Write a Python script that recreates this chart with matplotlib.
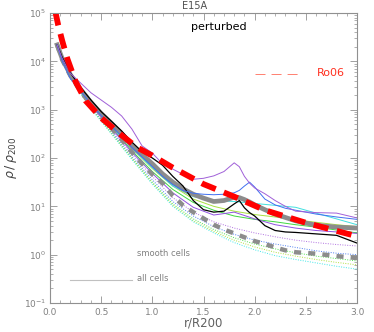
import numpy as np
import matplotlib
matplotlib.use("Agg")
import matplotlib.pyplot as plt
from matplotlib.ticker import FixedLocator, MultipleLocator, NullFormatter

# ---------------- data (log10 of rho/rho200) ----------------
r_fine = [0.07, 0.12, 0.2, 0.3, 0.4, 0.5, 0.6, 0.7, 0.8, 0.9, 1.0, 1.1, 1.2, 1.3, 1.4,
          1.5, 1.6, 1.7, 1.8, 1.85, 1.9, 1.95, 2.0, 2.1, 2.2, 2.3, 2.4, 2.6, 2.8, 3.0]

smooth_all = [4.34, 4.05, 3.72, 3.42, 3.15, 2.92, 2.72, 2.50, 2.25, 2.07, 1.88, 1.67, 1.50, 1.36, 1.25,
              1.17, 1.10, 1.12, 1.19, 1.18, 1.14, 1.09, 1.03, 0.93, 0.84, 0.77, 0.70, 0.61, 0.57, 0.55]
all_cells = [4.34, 4.08, 3.76, 3.46, 3.20, 2.96, 2.76, 2.56, 2.33, 2.13, 2.00, 1.85, 1.62, 1.42, 1.12,
             0.93, 0.88, 0.90, 1.05, 1.12, 0.97, 0.87, 0.80, 0.60, 0.50, 0.47, 0.46, 0.43, 0.40, 0.24]
smooth_dash = [4.34, 4.03, 3.70, 3.38, 3.10, 2.85, 2.62, 2.38, 2.12, 1.88, 1.66, 1.48, 1.22, 1.02, 0.88,
               0.75, 0.62, 0.52, 0.44, 0.40, 0.36, 0.32, 0.28, 0.22, 0.15, 0.09, 0.05, 0.02, -0.03, -0.07]
purple_up = [4.34, 4.06, 3.75, 3.55, 3.35, 3.20, 3.05, 2.87, 2.60, 2.25, 2.10, 1.88, 1.77, 1.66, 1.56,
             1.58, 1.63, 1.72, 1.90, 1.82, 1.62, 1.48, 1.38, 1.26, 1.12, 1.00, 0.90, 0.87, 0.86, 0.76]
blue_sol = [4.34, 4.00, 3.64, 3.38, 3.12, 2.88, 2.66, 2.45, 2.22, 2.02, 1.82, 1.62, 1.45, 1.33, 1.27,
            1.25, 1.24, 1.25, 1.28, 1.33, 1.42, 1.50, 1.40, 1.15, 1.03, 0.96, 0.92, 0.84, 0.78, 0.73]

r_thin = [0.07, 0.2, 0.4, 0.6, 0.8, 1.0, 1.2, 1.4, 1.6, 1.8, 2.0, 2.2, 2.4, 2.6, 2.8, 3.0]
green_sol = [4.34, 3.68, 3.10, 2.64, 2.15, 1.72, 1.35, 1.08, 0.92, 0.80, 0.73, 0.68, 0.62, 0.57, 0.51, 0.45]
ygreen_sol = [4.34, 3.70, 3.12, 2.67, 2.20, 1.78, 1.42, 1.15, 1.00, 0.90, 0.83, 0.78, 0.72, 0.67, 0.62, 0.58]
cyan_sol = [4.34, 3.69, 3.12, 2.66, 2.20, 1.80, 1.42, 1.20, 1.12, 1.10, 1.06, 1.02, 0.98, 0.86, 0.74, 0.62]
purple_low = [4.34, 3.68, 3.08, 2.62, 2.12, 1.68, 1.28, 0.98, 0.82, 0.88, 0.74, 0.62, 0.55, 0.50, 0.47, 0.44]
purple_dot = [4.34, 3.68, 3.08, 2.58, 2.08, 1.62, 1.18, 0.88, 0.68, 0.55, 0.45, 0.37, 0.30, 0.25, 0.21, 0.18]
blue_dot = [4.34, 3.66, 3.05, 2.55, 2.03, 1.55, 1.10, 0.80, 0.58, 0.42, 0.30, 0.22, 0.15, 0.08, 0.03, 0.00]
green_dot = [4.34, 3.65, 3.04, 2.52, 2.00, 1.50, 1.05, 0.74, 0.52, 0.35, 0.22, 0.12, 0.04, -0.03, -0.08, -0.13]
cyan_dot = [4.34, 3.64, 3.02, 2.50, 1.97, 1.46, 1.00, 0.68, 0.45, 0.25, 0.10, -0.02, -0.10, -0.17, -0.24, -0.30]
ygreen_dot = [4.34, 3.65, 3.03, 2.51, 1.99, 1.48, 1.02, 0.70, 0.48, 0.30, 0.16, 0.05, -0.03, -0.10, -0.16, -0.21]

r_ro06 = [0.05, 0.08, 0.12, 0.17, 0.25, 0.35, 0.5, 0.7, 0.85, 1.0, 1.2, 1.5, 1.8, 2.1, 2.5, 3.0]
ro06 = [5.05, 4.75, 4.42, 4.05, 3.58, 3.18, 2.83, 2.47, 2.22, 2.05, 1.80, 1.46, 1.20, 0.92, 0.66, 0.38]

x_ticks = [0.0, 0.5, 1.0, 1.5, 2.0, 2.5, 3.0]
x_ticklabels = ["0.0", "0.5", "1.0", "1.5", "2.0", "2.5", "3.0"]
y_ticks = [1e-1, 1e0, 1e1, 1e2, 1e3, 1e4, 1e5]
y_ticklabels = [r"$10^{-1}$", r"$10^{0}$", r"$10^{1}$", r"$10^{2}$", r"$10^{3}$", r"$10^{4}$", r"$10^{5}$"]

# ---------------- figure ----------------
fig = plt.figure(figsize=(3.74, 3.32), dpi=100)
ax = fig.add_axes([50/374, 29/332, 307/374, 290/332])

def P(v):
    return np.power(10.0, np.asarray(v))

thin = 0.7
ax.plot(r_thin, P(purple_dot), color="#b070e0", lw=thin, ls=(0, (1, 1.5)))
ax.plot(r_thin, P(blue_dot), color="#5080f0", lw=thin, ls=(0, (1, 1.5)))
ax.plot(r_thin, P(green_dot), color="#50e050", lw=thin, ls=(0, (1, 1.5)))
ax.plot(r_thin, P(ygreen_dot), color="#b0e040", lw=thin, ls=(0, (1, 1.5)))
ax.plot(r_thin, P(cyan_dot), color="#40e8e8", lw=thin, ls=(0, (1, 1.5)))

ax.plot(r_thin, P(green_sol), color="#40d840", lw=thin)
ax.plot(r_thin, P(ygreen_sol), color="#a8e040", lw=thin)
ax.plot(r_thin, P(cyan_sol), color="#40e0e0", lw=thin)
ax.plot(r_thin, P(purple_low), color="#9050e0", lw=thin)

ax.plot(r_fine, P(smooth_dash), color="#8c8c8c", lw=3.2, ls=(0, (1.6, 1.6)))
ax.plot(r_fine, P(smooth_all), color="#8c8c8c", lw=3.4)
ax.plot(r_fine, P(all_cells), color="black", lw=0.9)
ax.plot(r_fine, P(blue_sol), color="#4070f0", lw=thin)
ax.plot(r_fine, P(purple_up), color="#a060d8", lw=thin)

ax.plot(r_ro06, P(ro06), color="#ff0000", lw=4.2, ls=(0, (2.6, 1.5)))

ax.set_yscale("log")
ax.set_xlim(0, 3)
ax.set_ylim(1e-1, 1e5)

gcol = "#909090"
for s in ax.spines.values():
    s.set_color(gcol)
    s.set_linewidth(0.8)

ax.set_xticks(x_ticks)
ax.set_xticklabels(x_ticklabels)
ax.xaxis.set_minor_locator(MultipleLocator(0.1))
ax.set_yticks(y_ticks)
ax.set_yticklabels(y_ticklabels)
minor_y = [m * 10.0 ** e for e in range(-1, 5) for m in range(2, 10)]
ax.yaxis.set_minor_locator(FixedLocator(minor_y))
ax.yaxis.set_minor_formatter(NullFormatter())
ax.tick_params(which="both", direction="in", top=True, right=True, color=gcol,
               labelcolor="#808080", labelsize=6.5)
ax.tick_params(which="major", length=5, width=0.6)
ax.tick_params(which="minor", length=2.5, width=0.5)
ax.tick_params(axis="x", pad=3.5)
ax.tick_params(axis="y", pad=3)

ax.set_xlabel("r/R200", fontsize=8.5, color="#606060", labelpad=0)
ax.set_ylabel(r"$\rho\,/\,\rho_{200}$", fontsize=9, color="#404040", labelpad=3)

fig.text(195/374, 1 - 6/332, "E15A", fontsize=7, color="#505050", ha="center", va="center")
ax.text(0.46, 0.952, "perturbed", transform=ax.transAxes, fontsize=8, color="black",
        ha="left", va="center")

ax.plot([0.668, 0.814], [0.788, 0.788], transform=ax.transAxes, color="#ff8070", lw=0.7,
        ls=(0, (10.3, 6.2)))
ax.text(0.87, 0.793, "Ro06", transform=ax.transAxes, fontsize=8, color="#ff3020",
        ha="left", va="center")

ax.text(0.283, 0.172, "smooth cells", transform=ax.transAxes, fontsize=6, color="#808080",
        ha="left", va="center")
ax.plot([0.065, 0.267], [0.078, 0.078], transform=ax.transAxes, color="#c0c0c0", lw=0.8)
ax.text(0.283, 0.083, "all cells", transform=ax.transAxes, fontsize=6, color="#808080",
        ha="left", va="center")

fig.savefig("out.png", dpi=100)
